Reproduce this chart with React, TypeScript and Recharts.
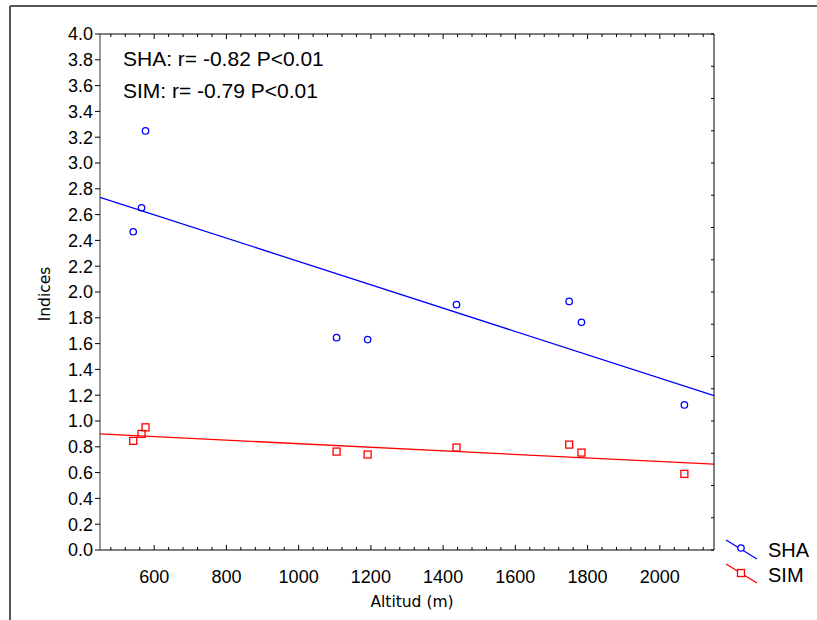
import React from "react";
import {
  ScatterChart,
  Scatter,
  XAxis,
  YAxis,
  ReferenceLine,
} from "recharts";

// Altitude (m) of each site, shared by both indices
const altitudes = [542, 565, 576, 1105, 1191, 1437, 1749, 1783, 2068];
const shaValues = [2.467, 2.653, 3.249, 1.646, 1.631, 1.902, 1.927, 1.765, 1.125];
const simValues = [0.846, 0.9, 0.951, 0.763, 0.74, 0.794, 0.817, 0.755, 0.59];

// regression lines, end points at the axis edges
const shaFit = [
  { x: 450, y: 2.734 },
  { x: 2150, y: 1.197 },
];
const simFit = [
  { x: 450, y: 0.9 },
  { x: 2150, y: 0.665 },
];

const xDomain = [450, 2150];
const yDomain = [0, 4];
const xMajorTicks = [600, 800, 1000, 1200, 1400, 1600, 1800, 2000];
const xMinorStep = 40;
const yMajorTicks = [0, 0.2, 0.4, 0.6, 0.8, 1.0, 1.2, 1.4, 1.6, 1.8, 2.0, 2.2, 2.4, 2.6, 2.8, 3.0, 3.2, 3.4, 3.6, 3.8, 4.0];
const yRightTicks = [0, 0.25, 0.5, 0.75, 1.0, 1.25, 1.5, 1.75, 2.0, 2.25, 2.5, 2.75, 3.0, 3.25, 3.5, 3.75, 4.0];

const shaLabel = "SHA: r= -0.82 P<0.01";
const simLabel = "SIM: r= -0.79 P<0.01";

const shaData = altitudes.map((x, i) => ({ x, y: shaValues[i] }));
const simData = altitudes.map((x, i) => ({ x, y: simValues[i] }));

const xAllTicks: number[] = [];
for (let v = 480; v <= 2120; v += xMinorStep) xAllTicks.push(v);

const BLUE = "#0000ff";
const RED = "#ff0000";
const FONT = "'Liberation Sans', Arial, sans-serif";
const TITLE_FONT = "'DejaVu Sans', sans-serif";

const BottomTick = (props: any) => {
  const { x, y, payload } = props;
  const major = xMajorTicks.includes(payload.value);
  return (
    <g>
      <line x1={x} x2={x} y1={y} y2={y - (major ? 5 : 3)} stroke="#000" />
      {major && (
        <text x={x} y={y + 33} textAnchor="middle" fontSize={18} fontFamily={FONT} fill="#000">
          {payload.value}
        </text>
      )}
    </g>
  );
};

const TopTick = (props: any) => {
  const { x, y, payload } = props;
  const major = xMajorTicks.includes(payload.value);
  return <line x1={x} x2={x} y1={y} y2={y + (major ? 5 : 3)} stroke="#000" />;
};

const LeftTick = (props: any) => {
  const { x, y, payload } = props;
  return (
    <g>
      <line x1={x - 5} x2={x} y1={y} y2={y} stroke="#000" />
      <text x={x - 7} y={y} dy="0.36em" textAnchor="end" fontSize={18} fontFamily={FONT} fill="#000">
        {Number(payload.value).toFixed(1)}
      </text>
    </g>
  );
};

const RightTick = (props: any) => {
  const { x, y } = props;
  return <line x1={x} x2={x - 3} y1={y} y2={y} stroke="#000" />;
};

const Circle = (props: any) => (
  <circle cx={props.cx} cy={props.cy} r={3.2} fill="none" stroke={BLUE} strokeWidth={1.3} />
);
const Square = (props: any) => (
  <rect x={props.cx - 3.5} y={props.cy - 3.5} width={7} height={7} fill="none" stroke={RED} strokeWidth={1.3} />
);

export default function App() {
  return (
    <div style={{ position: "absolute", left: 0, top: 0, width: 817, height: 620, background: "#fff" }}>
      <ScatterChart width={817} height={620} margin={{ top: 33, right: 102, bottom: 30, left: 40 }}>
        <XAxis
          xAxisId="b"
          type="number"
          dataKey="x"
          domain={xDomain}
          ticks={xAllTicks}
          interval={0}
          tickSize={0}
          tickMargin={0}
          tickLine={false}
          tick={<BottomTick />}
          height={40}
          stroke="#000"
          allowDataOverflow
        />
        <XAxis
          xAxisId="t"
          orientation="top"
          type="number"
          dataKey="x"
          domain={xDomain}
          ticks={xAllTicks}
          interval={0}
          tickSize={0}
          tickMargin={0}
          tickLine={false}
          tick={<TopTick />}
          height={1}
          stroke="#000"
          allowDataOverflow
        />
        <YAxis
          yAxisId="l"
          type="number"
          dataKey="y"
          domain={yDomain}
          ticks={yMajorTicks}
          interval={0}
          tickSize={0}
          tickMargin={0}
          tickLine={false}
          tick={<LeftTick />}
          width={60}
          stroke="#333"
          allowDataOverflow
        />
        <YAxis
          yAxisId="r"
          orientation="right"
          type="number"
          dataKey="y"
          domain={yDomain}
          ticks={yRightTicks}
          interval={0}
          tickSize={0}
          tickMargin={0}
          tickLine={false}
          tick={<RightTick />}
          width={1}
          stroke="#000"
          allowDataOverflow
        />
        <ReferenceLine
          xAxisId="b"
          yAxisId="l"
          segment={shaFit}
          stroke={BLUE}
          strokeWidth={1.3}
          ifOverflow="visible"
        />
        <ReferenceLine
          xAxisId="b"
          yAxisId="l"
          segment={simFit}
          stroke={RED}
          strokeWidth={1.3}
          ifOverflow="visible"
        />
        <Scatter
          name="SHA"
          xAxisId="b"
          yAxisId="l"
          data={shaData}
          shape={<Circle />}
          isAnimationActive={false}
        />
        <Scatter
          name="SIM"
          xAxisId="b"
          yAxisId="l"
          data={simData}
          shape={<Square />}
          isAnimationActive={false}
        />
      </ScatterChart>

      {/* frame, annotations, axis titles and legend */}
      <svg
        width={817}
        height={620}
        style={{ position: "absolute", left: 0, top: 0, pointerEvents: "none" }}
      >
        <line x1={10} y1={6} x2={817} y2={6} stroke="#555" strokeWidth={2} />
        <line x1={10} y1={6} x2={10} y2={620} stroke="#555" strokeWidth={2} />

        <text x={123} y={66} fontSize={21} fontFamily={FONT} fill="#000">{shaLabel}</text>
        <text x={123} y={98} fontSize={21} fontFamily={FONT} fill="#000">{simLabel}</text>

        <text x={412} y={607} textAnchor="middle" fontSize={15.5} fontFamily={TITLE_FONT} fill="#000">
          Altitud (m)
        </text>
        <text
          x={50}
          y={294}
          transform="rotate(-90, 50, 294)"
          textAnchor="middle"
          fontSize={15.5}
          fontFamily={TITLE_FONT}
          fill="#000"
        >
          Indices
        </text>

        <line x1={726} y1={540} x2={757} y2={559} stroke={BLUE} strokeWidth={1.3} />
        <circle cx={741} cy={548} r={3.2} fill="#fff" stroke={BLUE} strokeWidth={1.3} />
        <text x={768} y={557} fontSize={20} fontFamily={FONT} fill="#000">SHA</text>

        <line x1={726} y1={564} x2={757} y2={583} stroke={RED} strokeWidth={1.3} />
        <rect x={737.5} y={569.5} width={7} height={7} fill="#fff" stroke={RED} strokeWidth={1.3} />
        <text x={768} y={582} fontSize={20} fontFamily={FONT} fill="#000">SIM</text>
      </svg>
    </div>
  );
}
